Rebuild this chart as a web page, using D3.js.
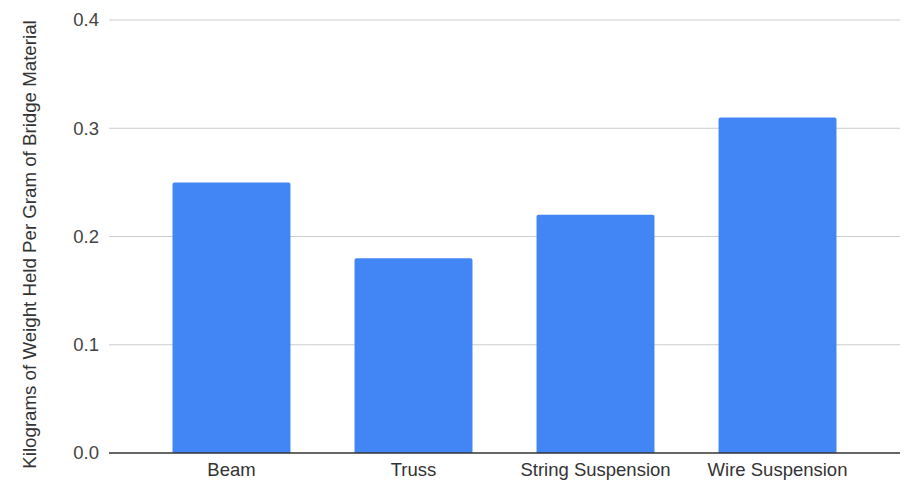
<!DOCTYPE html>
<html>
<head>
<meta charset="utf-8">
<script src="https://cdn.jsdelivr.net/npm/d3@7"></script>
<style>
  html, body { margin: 0; padding: 0; background: #fff; }
  svg { display: block; font-family: "Liberation Sans", Arial, sans-serif; }
</style>
</head>
<body>
<svg id="chart" width="905" height="484"></svg>
<script>
// Bridge types and the load each held per gram of material
const categories = ["Beam", "Truss", "String Suspension", "Wire Suspension"];
const values = [0.25, 0.18, 0.22, 0.31];
const yTicks = [0, 0.1, 0.2, 0.3, 0.4];
const yTitle = "Kilograms of Weight Held Per Gram of Bridge Material";

const fontFamily = "'Liberation Sans', Arial, sans-serif";
const fontSize = 18.5;

const svg = d3.select("#chart");
const margin = { top: 20, right: 5, bottom: 31, left: 109 };
const width = 905 - margin.left - margin.right;
const height = 484 - margin.top - margin.bottom;

const g = svg.append("g").attr("transform", `translate(${margin.left},${margin.top})`);

const x = d3.scaleBand().domain(categories).range([0, width])
  .paddingInner(0.352).paddingOuter(0.349);
const y = d3.scaleLinear().domain([0, 0.4]).range([height, 0]);

// horizontal gridlines
g.append("g").selectAll("line")
  .data(yTicks.filter(t => t > 0))
  .join("line")
  .attr("x1", 0).attr("x2", width)
  .attr("y1", d => y(d)).attr("y2", d => y(d))
  .attr("stroke", "#cccccc").attr("stroke-width", 1);

// y tick labels
const yAxis = d3.axisLeft(y).tickValues(yTicks).tickFormat(d3.format(".1f")).tickSize(0).tickPadding(10);
g.append("g").call(yAxis)
  .call(a => a.select(".domain").remove())
  .call(a => a.selectAll("text").attr("font-size", fontSize).attr("fill", "#444").attr("font-family", fontFamily));

// bars with slightly rounded tops
const r = 2;
g.append("g").selectAll("path")
  .data(categories.map((c, i) => ({ c, v: values[i] })))
  .join("path")
  .attr("fill", "#4285f4")
  .attr("d", d => {
    const x0 = x(d.c), x1 = x0 + x.bandwidth();
    const y0 = y(d.v), yb = y(0);
    return `M${x0},${yb}V${y0 + r}Q${x0},${y0} ${x0 + r},${y0}H${x1 - r}Q${x1},${y0} ${x1},${y0 + r}V${yb}Z`;
  });

// baseline
g.append("line")
  .attr("x1", 0).attr("x2", width)
  .attr("y1", y(0)).attr("y2", y(0))
  .attr("stroke", "#333").attr("stroke-width", 1.5);

// x category labels
const xAxis = d3.axisBottom(x).tickSize(0).tickPadding(10);
g.append("g").attr("transform", `translate(0,${height})`).call(xAxis)
  .call(a => a.select(".domain").remove())
  .call(a => a.selectAll("text").attr("font-size", fontSize).attr("fill", "#333").attr("font-family", fontFamily));

// y axis title
svg.append("text")
  .attr("transform", `translate(36,${margin.top + height / 2 + 8}) rotate(-90)`)
  .attr("text-anchor", "middle")
  .attr("font-size", 18.7)
  .attr("font-family", fontFamily)
  .attr("fill", "#333")
  .text(yTitle);
</script>
</body>
</html>
